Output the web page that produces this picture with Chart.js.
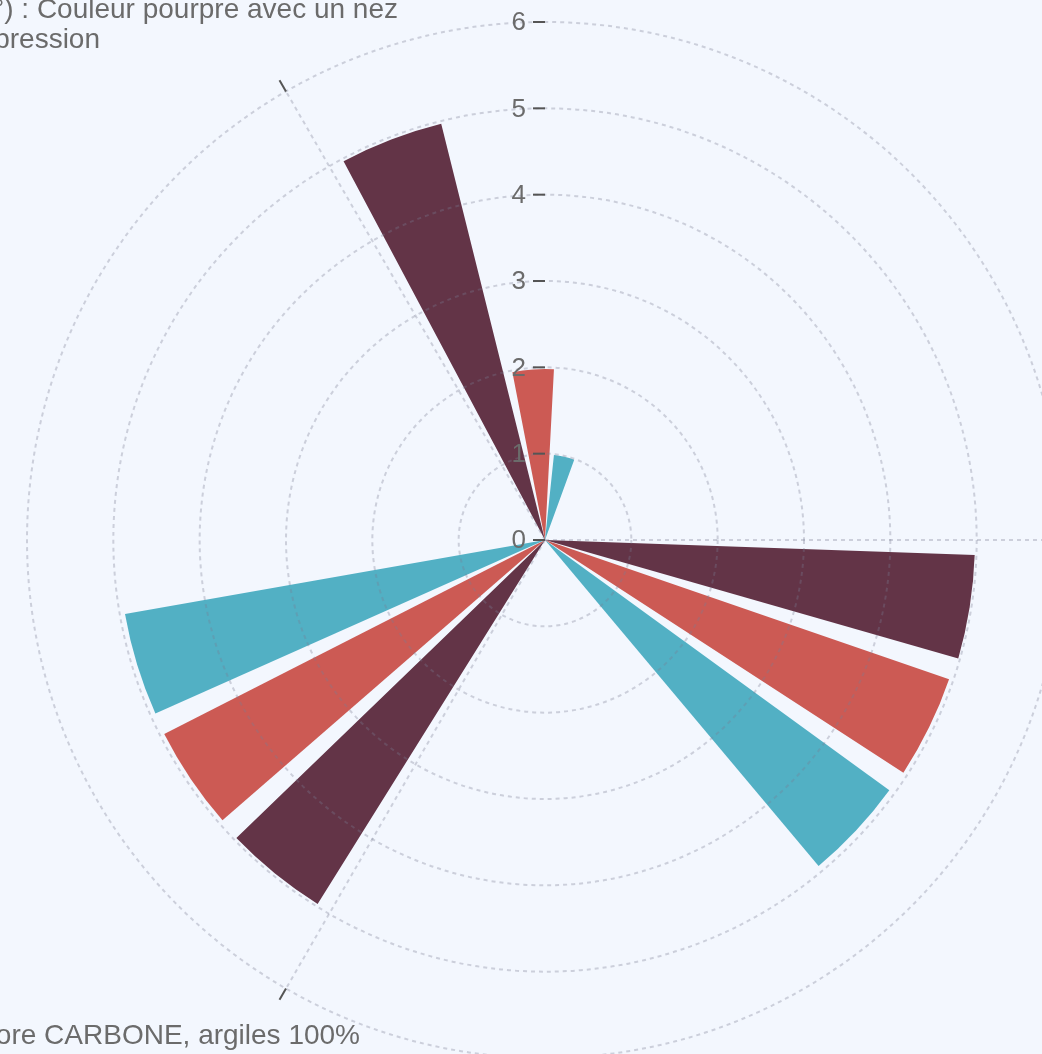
<!DOCTYPE html>
<html lang="fr">
<head>
<meta charset="utf-8">
<title>Barres polaires</title>
<script src="https://cdn.jsdelivr.net/npm/chart.js@4.4.0/dist/chart.umd.min.js"></script>
<style>
  html, body { margin: 0; padding: 0; background: #f3f7fe; overflow: hidden; width: 1042px; height: 1054px; }
  #wrap { position: absolute; left: 0; top: 0; width: 1100px; height: 1100px; }
</style>
</head>
<body>
<div id="wrap"><canvas id="myChart" width="1100" height="1100"></canvas></div>
<script>
// categories, clockwise from 3 o'clock (each one may hold several lines)
var categories = [
  ["Appellation : Vin de France, Merlot 100%"],
  ["Élevage en amphore CARBONE, argiles 100%"],
  ["Dégustation (à servir à 16-18°) : Couleur pourpre avec un nez", "intense, fruité, tout en finesse et d'expression"]
];
var seriesNames = ["Série 1", "Série 2", "Série 3"];
var series1 = [4.98, 4.97, 4.97];
var series2 = [4.95, 4.95, 1.98];
var series3 = [4.93, 4.94, 0.99];
var radialTicks = [0, 1, 2, 3, 4, 5, 6];

var seriesColors = ["#633447", "#cc5a54", "#52b0c4"];
var gridColor = "rgba(120,125,145,0.32)";
var textColor = "#6b6b6b";

// bar layout inside one category sector (degrees, clockwise)
var barOffset = 2, barWidth = 14, barGap = 3;

var allSeries = [series1, series2, series3];
var sliceValues = [], sliceAngles = [], sliceColors = [], sliceLabels = [];

function pushSlice(label, value, angle, color){
  sliceLabels.push(label);
  sliceValues.push(value);
  sliceAngles.push(angle);
  sliceColors.push(color);
}

var sector = 360 / categories.length;
for (var c = 0; c < categories.length; c++){
  var used = barOffset;
  pushSlice("", 0, barOffset, "rgba(0,0,0,0)");
  for (var s = 0; s < allSeries.length; s++){
    if (s > 0){
      pushSlice("", 0, barGap, "rgba(0,0,0,0)");
      used += barGap;
    }
    pushSlice(seriesNames[s], allSeries[s][c], barWidth, seriesColors[s]);
    used += barWidth;
  }
  pushSlice("", 0, sector - used, "rgba(0,0,0,0)");
}

// where each category label sits, relative to the polar centre
var labelSpots = [
  { align: "left",  xs: [540], ys: [10] },
  { align: "right", xs: [-185], ys: [504] },
  { align: "right", xs: [-147, -445], ys: [-522, -492] }
];

var polarDecor = {
  id: "polarDecor",
  afterDatasetsDraw: function(chart){
    var r = chart.scales.r, ctx = chart.ctx;
    var cx = r.xCenter, cy = r.yCenter, R = r.drawingArea;
    ctx.save();
    ctx.strokeStyle = gridColor;
    ctx.lineWidth = 2;
    ctx.setLineDash([4, 4]);
    for (var i = 0; i < categories.length; i++){
      var a = i * 2 * Math.PI / categories.length;
      ctx.beginPath();
      ctx.moveTo(cx, cy);
      ctx.lineTo(cx + R * Math.cos(a), cy + R * Math.sin(a));
      ctx.stroke();
    }
    ctx.restore();
  },
  afterDraw: function(chart){
    var r = chart.scales.r, ctx = chart.ctx;
    var cx = r.xCenter, cy = r.yCenter, R = r.drawingArea;
    ctx.save();
    // angular ticks
    ctx.strokeStyle = "#555";
    ctx.lineWidth = 2;
    for (var i = 0; i < categories.length; i++){
      var a = i * 2 * Math.PI / categories.length;
      ctx.beginPath();
      ctx.moveTo(cx + R * Math.cos(a), cy + R * Math.sin(a));
      ctx.lineTo(cx + (R + 13) * Math.cos(a), cy + (R + 13) * Math.sin(a));
      ctx.stroke();
    }
    // radial axis ticks and labels
    ctx.font = "26px 'Liberation Sans', Arial, sans-serif";
    ctx.textAlign = "right";
    ctx.textBaseline = "middle";
    radialTicks.forEach(function(v){
      var y = cy - r.getDistanceFromCenterForValue(v);
      ctx.beginPath();
      ctx.moveTo(cx - 12, y);
      ctx.lineTo(cx, y);
      ctx.stroke();
      ctx.fillStyle = textColor;
      ctx.fillText(String(v), cx - 19, y + 1);
    });
    // category labels
    ctx.font = "28px 'Liberation Sans', Arial, sans-serif";
    ctx.textBaseline = "alphabetic";
    ctx.fillStyle = textColor;
    categories.forEach(function(lines, k){
      var spot = labelSpots[k];
      ctx.textAlign = spot.align;
      lines.forEach(function(line, j){
        ctx.fillText(line, cx + spot.xs[j], cy + spot.ys[j]);
      });
    });
    ctx.restore();
  }
};

new Chart("myChart", {
  type: "polarArea",
  data: {
    labels: sliceLabels,
    datasets: [{
      data: sliceValues,
      angle: sliceAngles,
      backgroundColor: sliceColors,
      borderWidth: 0
    }]
  },
  options: {
    responsive: false,
    animation: false,
    layout: { padding: { left: 27, top: 22, right: 37, bottom: 42 } },
    plugins: {
      legend: { display: false },
      tooltip: { enabled: false }
    },
    scales: {
      r: {
        min: 0,
        max: 6,
        startAngle: 90,
        ticks: { display: false, stepSize: 1 },
        grid: { circular: true, color: gridColor, lineWidth: 2, z: 1 },
        border: { dash: [4, 4] },
        angleLines: { display: false },
        pointLabels: { display: false }
      }
    }
  },
  plugins: [polarDecor]
});
</script>
</body>
</html>
